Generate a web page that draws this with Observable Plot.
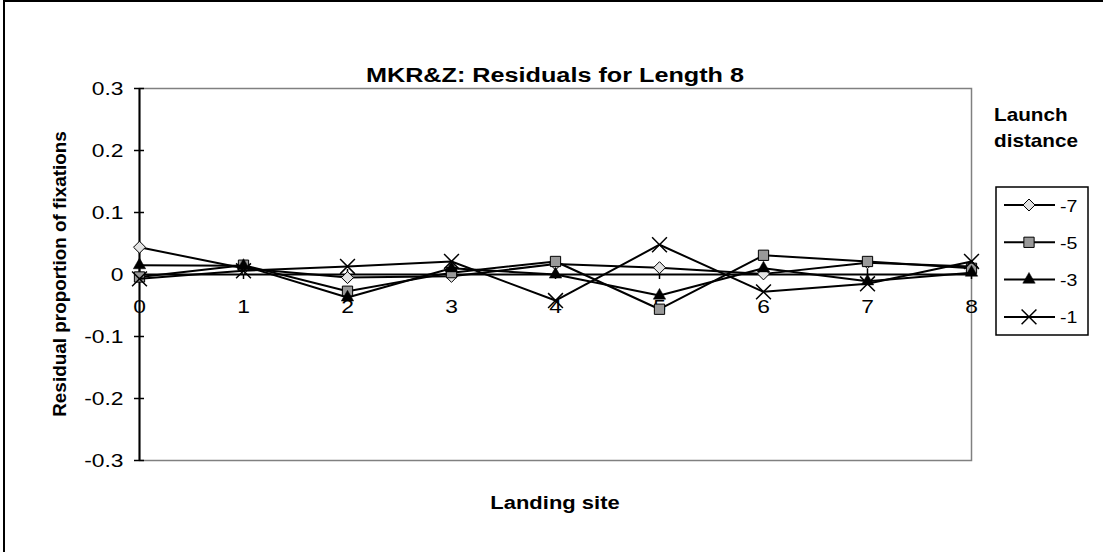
<!DOCTYPE html>
<html>
<head>
<meta charset="utf-8">
<script src="https://cdn.jsdelivr.net/npm/d3@7"></script>
<script src="https://cdn.jsdelivr.net/npm/@observablehq/plot@0.6"></script>
<style>
  html, body { margin: 0; padding: 0; background: #fff; }
  #chart { position: relative; width: 1103px; height: 552px; overflow: hidden; }
</style>
</head>
<body>
<div id="chart"></div>
<script>
// ---- data ----
const categories = [0, 1, 2, 3, 4, 5, 6, 7, 8];
const xTickLabels = ["0", "1", "2", "3", "4", "5", "6", "7", "8"];
const yTicks = [-0.3, -0.2, -0.1, 0, 0.1, 0.2, 0.3];
const yTickLabels = ["-0.3", "-0.2", "-0.1", "0", "0.1", "0.2", "0.3"];
const seriesNames = ["-7", "-5", "-3", "-1"];
const launchM7 = [0.044, 0.010, -0.005, -0.003, 0.017, 0.011, 0.001, 0.019, 0.013];
const launchM5 = [-0.004, 0.015, -0.027, 0.003, 0.021, -0.056, 0.031, 0.021, 0.010];
const launchM3 = [0.015, 0.014, -0.037, 0.010, 0.000, -0.034, 0.010, -0.011, 0.003];
const launchM1 = [-0.007, 0.006, 0.013, 0.021, -0.042, 0.048, -0.028, -0.015, 0.021];
const titleText = "MKR&Z: Residuals for Length 8";
const xTitle = "Landing site";
const yTitle = "Residual proportion of fixations";
const legendTitle = ["Launch", "distance"];

// ---- styles ----
const W = 1103, H = 552;
const M = {left: 139, right: 132, top: 88, bottom: 92};
const FONT = "'Liberation Sans', Arial, Helvetica, sans-serif";
const seriesValues = [launchM7, launchM5, launchM3, launchM1];
const markerStyles = [
  {symbol: "diamond2", r: 5.4, fill: "#e4e4e4", stroke: "black", strokeWidth: 1},
  {symbol: "square", r: 5.8, fill: "#999999", stroke: "black", strokeWidth: 1},
  {symbol: "triangle", r: 4.6, fill: "black", stroke: "black", strokeWidth: 0.5},
  {symbol: "times", r: 6.8, fill: "none", stroke: "black", strokeWidth: 1.5}
];
const d3Symbols = {diamond2: d3.symbolDiamond2, square: d3.symbolSquare, triangle: d3.symbolTriangle, times: d3.symbolTimes};

const rows = [];
seriesNames.forEach((s, si) => categories.forEach((c, ci) => rows.push({series: s, cat: c, value: seriesValues[si][ci]})));

const pxPerUnitY = (H - M.top - M.bottom) / 0.6;
const tickHalf = 5 / pxPerUnitY;

const marks = [
  Plot.frame({stroke: "#808080", strokeWidth: 1.5}),
  Plot.axisY(yTicks, {tickSize: 10, dx: 5, tickFormat: () => "", label: null, stroke: "black", strokeWidth: 1.5}),
  Plot.axisY(yTicks, {tickSize: 0, tickPadding: 16, fontSize: 19, fill: "black", label: null,
    tickFormat: d => yTickLabels[yTicks.indexOf(d)], className: "ytl"}),
  Plot.ruleX([0], {stroke: "black", strokeWidth: 2}),
  Plot.ruleY([0], {stroke: "black", strokeWidth: 2}),
  Plot.ruleX(categories, {x: d => d, y1: -tickHalf, y2: tickHalf, stroke: "black", strokeWidth: 1.5}),
  Plot.text(categories, {x: d => d, y: 0, dy: 32, text: (d, i) => xTickLabels[i], fontSize: 19, fill: "black", className: "xtl"})
];
seriesNames.forEach((s, si) => {
  const data = rows.filter(r => r.series === s);
  marks.push(Plot.line(data, {x: "cat", y: "value", stroke: "black", strokeWidth: 2}));
  const ms = markerStyles[si];
  marks.push(Plot.dot(data, {x: "cat", y: "value", symbol: ms.symbol, r: ms.r, fill: ms.fill, stroke: ms.stroke, strokeWidth: ms.strokeWidth}));
});

const svg = Plot.plot({
  width: W, height: H,
  marginLeft: M.left, marginRight: M.right, marginTop: M.top, marginBottom: M.bottom,
  x: {domain: [0, 8], axis: null, label: null},
  y: {domain: [-0.3, 0.3], axis: null, label: null},
  style: {fontFamily: FONT, background: "white", color: "black"},
  marks
});
document.getElementById("chart").appendChild(svg);

const root = d3.select(svg);
// outer chart border
root.append("rect").attr("x", 4).attr("y", 1).attr("width", W + 10).attr("height", H + 10)
  .attr("fill", "none").attr("stroke", "black").attr("stroke-width", 2);

function addText(x, y, txt, size, bold, anchor, rotate) {
  const t = root.append("text").attr("x", x).attr("y", y).text(txt)
    .attr("font-family", FONT).attr("font-size", size).attr("font-weight", bold ? "bold" : "normal")
    .attr("text-anchor", anchor).attr("fill", "black");
  if (rotate) t.attr("transform", `rotate(-90 ${x} ${y})`);
  return t;
}
function stretch(sel, k) {
  sel.each(function() {
    const w = this.getComputedTextLength();
    if (w > 0) { this.setAttribute("textLength", w * k); this.setAttribute("lengthAdjust", "spacingAndGlyphs"); }
  });
}

const cx = M.left + (W - M.left - M.right) / 2;
stretch(addText(cx, 82, titleText, 20, true, "middle"), 1.26);
stretch(addText(cx, 509, xTitle, 18, true, "middle"), 1.22);
stretch(addText(66, (M.top + H - M.bottom) / 2, yTitle, 18, true, "middle", true), 1.05);
stretch(addText(994, 121, legendTitle[0], 19, true, "start"), 1.09);
stretch(addText(994, 147, legendTitle[1], 19, true, "start"), 1.09);

// legend
const lg = root.append("g");
lg.append("rect").attr("x", 996).attr("y", 187).attr("width", 92).attr("height", 148)
  .attr("fill", "white").attr("stroke", "black").attr("stroke-width", 1.5);
seriesNames.forEach((s, i) => {
  const y = 205 + i * 37.3;
  lg.append("line").attr("x1", 1004).attr("x2", 1055).attr("y1", y).attr("y2", y)
    .attr("stroke", "black").attr("stroke-width", 2);
  const ms = markerStyles[i];
  lg.append("path").attr("transform", `translate(1029,${y})`)
    .attr("d", d3.symbol(d3Symbols[ms.symbol], Math.PI * ms.r * ms.r)())
    .attr("fill", ms.fill).attr("stroke", ms.stroke).attr("stroke-width", ms.strokeWidth);
  stretch(addText(1060, y + 6.5, s, 17, false, "start"), 1.15);
});

// stretch tick labels horizontally to match the reference's wide glyphs
stretch(root.selectAll(".ytl text, .xtl text"), 1.2);
</script>
</body>
</html>
